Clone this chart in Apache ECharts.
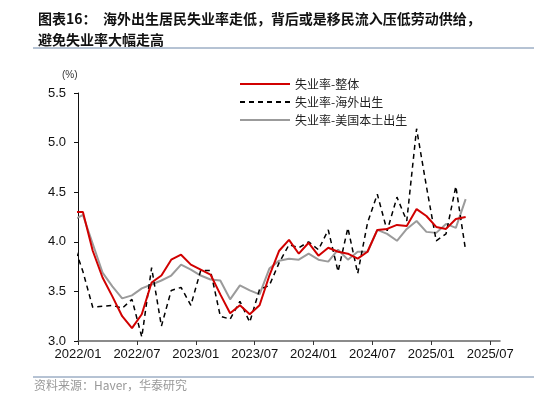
<!DOCTYPE html>
<html>
<head>
<meta charset="utf-8">
<script src="https://cdn.jsdelivr.net/npm/echarts@6/dist/echarts.min.js"></script>
<style>
  html, body { margin: 0; padding: 0; background: #fff; }
  #main { width: 534px; height: 401px; }
</style>
</head>
<body>
<div id="main"></div>
<script>
// months from 2021/12 to 2025/04, values read at month end
const months = ['2021/12',
  '2022/01','2022/02','2022/03','2022/04','2022/05','2022/06','2022/07','2022/08','2022/09','2022/10','2022/11','2022/12',
  '2023/01','2023/02','2023/03','2023/04','2023/05','2023/06','2023/07','2023/08','2023/09','2023/10','2023/11','2023/12',
  '2024/01','2024/02','2024/03','2024/04','2024/05','2024/06','2024/07','2024/08','2024/09','2024/10','2024/11','2024/12',
  '2025/01','2025/02','2025/03','2025/04']
const overall = [4.30,
  4.30, 3.91, 3.64, 3.45, 3.25, 3.13, 3.27, 3.59, 3.66, 3.82, 3.87, 3.77,
  3.72, 3.67, 3.47, 3.28, 3.36, 3.27, 3.36, 3.66, 3.91, 4.02, 3.88, 3.99,
  3.86, 3.94, 3.90, 3.88, 3.83, 3.90, 4.12, 4.13, 4.17, 4.16, 4.33, 4.26,
  4.15, 4.13, 4.23, 4.25]
const foreignBorn = [3.99,
  3.70, 3.34, 3.35, 3.36, 3.33, 3.42, 3.04, 3.74, 3.15, 3.51, 3.54, 3.36,
  3.71, 3.71, 3.25, 3.22, 3.40, 3.19, 3.52, 3.56, 3.79, 3.97, 3.94, 4.00,
  3.92, 4.12, 3.70, 4.14, 3.68, 4.19, 4.48, 4.11, 4.45, 4.21, 5.14, 4.56,
  4.01, 4.08, 4.56, 3.91]
const nativeBorn = [4.22,
  4.27, 3.98, 3.69, 3.55, 3.43, 3.46, 3.53, 3.57, 3.61, 3.66, 3.77, 3.72,
  3.66, 3.62, 3.61, 3.42, 3.56, 3.51, 3.47, 3.73, 3.81, 3.83, 3.82, 3.88,
  3.82, 3.80, 3.92, 3.82, 3.90, 3.90, 4.12, 4.08, 4.01, 4.13, 4.21, 4.10,
  4.09, 4.18, 4.14, 4.43]
const yTicks = [3.0, 3.5, 4.0, 4.5, 5.0, 5.5]

// x = months since 2022/01 start; month-end points sit at index + 0.5
function toPoints(vals) {
  return vals.map((v, i) => [i - 0.5, v])
}
function monthLabel(v) {
  const y = 2022 + Math.floor(v / 12)
  const m = v % 12 + 1
  return y + '/' + (m < 10 ? '0' + m : m)
}

const chart = echarts.init(document.getElementById('main'))
const font = 'Liberation Sans, Arial, sans-serif'
chart.setOption({
  animation: false,
  title: {
    text: '图表16：  海外出生居民失业率走低，背后或是移民流入压低劳动供给，\n避免失业率大幅走高',
    left: 33, top: 3,
    textStyle: { fontSize: 14, fontWeight: 'bold', color: '#111', lineHeight: 21, fontFamily: 'Noto Sans CJK SC' }
  },
  graphic: [
    { type: 'line', shape: { x1: 33, y1: 48, x2: 534, y2: 48 }, style: { stroke: '#6d86a8', lineWidth: 1 } },
    { type: 'line', shape: { x1: 33, y1: 377, x2: 534, y2: 377 }, style: { stroke: '#6d86a8', lineWidth: 1 } },
    { type: 'text', left: 34, top: 379, style: { text: '资料来源：Haver，华泰研究', fill: '#999', font: '12px "Noto Sans CJK SC"' } },
    { type: 'text', left: 62, top: 70, style: { text: '(%)', fill: '#333', font: '10px "Liberation Sans"' } }
  ],
  legend: {
    orient: 'vertical', left: 234, top: 73, itemWidth: 50, itemHeight: 10, itemGap: 6,
    itemStyle: { opacity: 0 },
    textStyle: { fontSize: 12, color: '#222', fontFamily: 'Noto Sans CJK SC' },
    data: ['失业率-整体', '失业率-海外出生', '失业率-美国本土出生']
  },
  grid: { left: 78, right: 34, top: 93, bottom: 60 },
  xAxis: {
    type: 'value', min: 0, max: 43, interval: 6,
    axisLine: { lineStyle: { color: '#666', width: 1.5 } },
    axisTick: { show: true, inside: false, length: 4, lineStyle: { color: '#333' } },
    splitLine: { show: false },
    axisLabel: { formatter: monthLabel, showMaxLabel: false, color: '#111', fontSize: 13, fontFamily: font, margin: 7 }
  },
  yAxis: {
    type: 'value', min: yTicks[0], max: yTicks[yTicks.length - 1], interval: 0.5,
    axisLine: { show: true, lineStyle: { color: '#111', width: 1 } },
    axisTick: { show: true, length: 4, lineStyle: { color: '#111' } },
    splitLine: { show: false },
    axisLabel: { formatter: v => v.toFixed(1), color: '#111', fontSize: 13, fontFamily: font, margin: 12 }
  },
  series: [
    { name: '失业率-整体', type: 'line', data: toPoints(overall), symbol: 'none', clip: true, z: 4,
      lineStyle: { color: '#d10000', width: 2 }, itemStyle: { color: '#d10000' } },
    { name: '失业率-海外出生', type: 'line', data: toPoints(foreignBorn), symbol: 'none', clip: true, z: 3,
      lineStyle: { color: '#000', width: 1.5, type: [5, 4] }, itemStyle: { color: '#000' } },
    { name: '失业率-美国本土出生', type: 'line', data: toPoints(nativeBorn), symbol: 'none', clip: true, z: 2,
      lineStyle: { color: '#9b9b9b', width: 2 }, itemStyle: { color: '#9b9b9b' } }
  ]
})
</script>
</body>
</html>
